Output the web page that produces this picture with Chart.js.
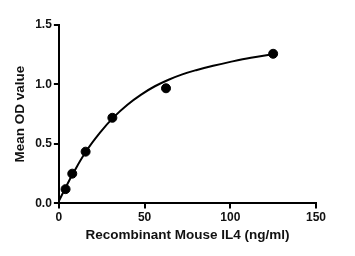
<!DOCTYPE html>
<html>
<head>
<meta charset="utf-8">
<script src="https://cdn.jsdelivr.net/npm/chart.js"></script>
<style>
  html, body { margin: 0; padding: 0; background: #fff; }
  #wrap { width: 355px; height: 256px; }
</style>
</head>
<body>
<div id="wrap"><canvas id="myChart"></canvas></div>
<script>
// measured standards
const conc = [3.9, 7.8, 15.6, 31.2, 62.5, 125];
const od = [0.12, 0.25, 0.435, 0.72, 0.968, 1.258];

// fitted curve
const fitX = [0, 4, 8, 16, 24, 32, 40, 48, 56, 64, 72, 80, 90, 100, 112, 125];
const fitY = [0.02, 0.135, 0.245, 0.44, 0.595, 0.725, 0.83, 0.915, 0.985, 1.04, 1.085, 1.12, 1.157, 1.19, 1.225, 1.255];

const xTicks = [0, 50, 100, 150];
const yTicks = [0, 0.5, 1.0, 1.5];

const ctx = document.getElementById('myChart');

const tickFont = { family: 'Liberation Sans, Arial, sans-serif', size: 12, weight: 'bold' };
const titleFont = { family: 'Liberation Sans, Arial, sans-serif', size: 13.5, weight: 'bold' };

new Chart(ctx, {
  type: 'scatter',
  data: {
    datasets: [{
      label: 'fit',
      type: 'line',
      data: fitX.map((x, i) => ({ x: x, y: fitY[i] })),
      borderColor: '#000',
      borderWidth: 2,
      pointRadius: 0,
      tension: 0.4,
      fill: false
    }, {
      label: 'OD',
      data: conc.map((x, i) => ({ x: x, y: od[i] })),
      backgroundColor: '#000',
      borderColor: '#000',
      pointRadius: 4.5
    }]
  },
  options: {
    responsive: true,
    maintainAspectRatio: false,
    animation: false,
    layout: { padding: { top: 25, right: 39, left: 8, bottom: 9 } },
    plugins: { legend: { display: false }, tooltip: { enabled: false } },
    scales: {
      x: {
        type: 'linear',
        min: 0,
        max: 150,
        afterBuildTicks: s => { s.ticks = xTicks.map(v => ({ value: v })); },
        ticks: { color: '#111', font: tickFont, padding: 2 },
        grid: { drawOnChartArea: false, drawTicks: true, tickLength: 5, color: '#000', lineWidth: 2 },
        border: { color: '#000', width: 2 },
        title: { display: true, text: 'Recombinant Mouse IL4 (ng/ml)', color: '#111', font: titleFont, padding: { top: 0, bottom: 4 } }
      },
      y: {
        min: 0,
        max: 1.5,
        afterBuildTicks: s => { s.ticks = yTicks.map(v => ({ value: v })); },
        ticks: { color: '#111', font: tickFont, padding: 2, callback: v => v.toFixed(1) },
        grid: { drawOnChartArea: false, drawTicks: true, tickLength: 5, color: '#000', lineWidth: 2 },
        border: { color: '#000', width: 2 },
        title: { display: true, text: 'Mean OD value', color: '#111', font: titleFont, padding: { bottom: 5 } }
      }
    }
  }
});
</script>
</body>
</html>
